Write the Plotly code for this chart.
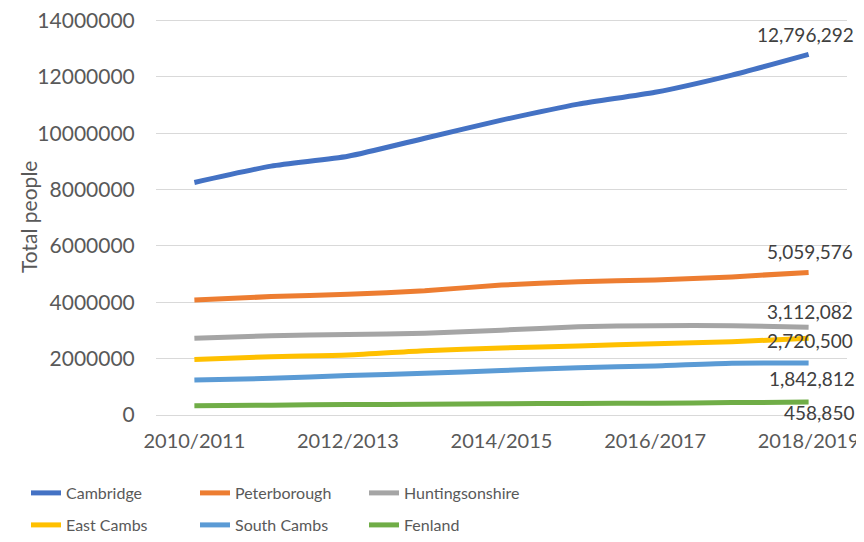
import plotly.graph_objects as go

years = ["2010/2011", "2011/2012", "2012/2013", "2013/2014", "2014/2015",
         "2015/2016", "2016/2017", "2017/2018", "2018/2019"]
tick_labels = ["2010/2011", "2012/2013", "2014/2015", "2016/2017", "2018/2019"]

cambridge = [8250000, 8830000, 9180000, 9820000, 10460000, 11030000, 11450000, 12060000, 12796292]
peterborough = [4080000, 4200000, 4280000, 4410000, 4610000, 4730000, 4790000, 4900000, 5059576]
huntingsonshire = [2720000, 2810000, 2860000, 2900000, 3010000, 3130000, 3170000, 3170000, 3112082]
east_cambs = [1970000, 2070000, 2130000, 2280000, 2380000, 2450000, 2530000, 2600000, 2720500]
south_cambs = [1240000, 1300000, 1400000, 1480000, 1580000, 1680000, 1740000, 1840000, 1842812]
fenland = [330000, 350000, 370000, 380000, 400000, 410000, 420000, 440000, 458850]
y_ticks = [0, 2000000, 4000000, 6000000, 8000000, 10000000, 12000000, 14000000]

# name, values, colour, legend, label (xshift, yshift)
series = [
    ("Cambridge", cambridge, "#4472C4", "legend", (-3, 20)),
    ("Peterborough", peterborough, "#ED7D31", "legend", (1, 21)),
    ("Huntingsonshire", huntingsonshire, "#A5A5A5", "legend", (1, 16)),
    ("East Cambs", east_cambs, "#FFC000", "legend2", (1, -2)),
    ("South Cambs", south_cambs, "#5B9BD5", "legend2", (3, -15)),
    ("Fenland", fenland, "#70AD47", "legend2", (10, -10)),
]

# page has an 8px body margin, so the figure is sized 8px smaller
W, H = 856, 534

fig = go.Figure()
annotations = []
for name, vals, color, leg, (dx, dy) in series:
    fig.add_trace(go.Scatter(
        x=years, y=vals, name=name, mode="lines",
        line=dict(color=color, width=5, shape="spline", smoothing=0.6),
        legend=leg,
    ))
    annotations.append(dict(
        x=years[-1], y=vals[-1], xref="x", yref="y", text=f"{vals[-1]:,}",
        showarrow=False, xanchor="center", yanchor="middle",
        xshift=dx, yshift=dy,
        font=dict(family="Lato", size=19, color="#404040"),
    ))

annotations.append(dict(
    text="Total people", textangle=-90, showarrow=False,
    xref="paper", yref="paper", x=(20 - 148) / 691, y=0.5,
    xanchor="center", yanchor="middle",
    font=dict(family="Lato", size=21, color="#595959"),
))

legend_common = dict(
    orientation="h", xanchor="left", yanchor="middle",
    xref="container", yref="container",
    entrywidth=124, entrywidthmode="pixels",
    font=dict(family="Lato", size=16, color="#595959"),
    itemwidth=30, bgcolor="rgba(0,0,0,0)",
)

fig.update_layout(
    width=W, height=H,
    paper_bgcolor="white", plot_bgcolor="white",
    margin=dict(l=148, r=17, t=11, b=127, autoexpand=False),
    font=dict(family="Lato", color="#595959"),
    showlegend=True,
    legend=dict(legend_common, x=18 / W, y=1 - 485 / H),
    legend2=dict(legend_common, x=18 / W, y=1 - 517 / H),
    xaxis=dict(
        type="category", categoryorder="array", categoryarray=years,
        range=[-0.5, 8.5], tickmode="array", tickvals=tick_labels, ticktext=tick_labels,
        showgrid=False, showline=True, linecolor="#d9d9d9", linewidth=1,
        tickfont=dict(family="Lato", size=20, color="#595959"),
        ticks="outside", ticklen=8, tickcolor="rgba(0,0,0,0)", automargin=False,
        ticklabeloverflow="allow",
    ),
    yaxis=dict(
        range=[0, 14050000], tickmode="array", tickvals=y_ticks, tickformat="d",
        showgrid=True, gridcolor="#d9d9d9", gridwidth=1,
        zeroline=False, showline=False,
        ticks="outside", ticklen=16, tickcolor="rgba(0,0,0,0)",
        tickfont=dict(family="Lato", size=21, color="#595959"),
        automargin=False, ticklabeloverflow="allow",
    ),
    annotations=annotations,
)

fig.write_html("out.html")
